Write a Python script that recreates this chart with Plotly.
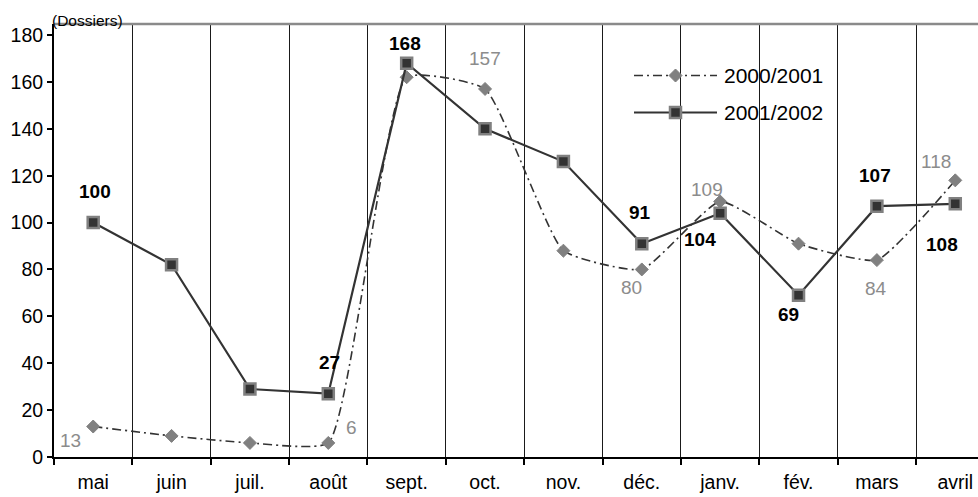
import plotly.graph_objects as go

# Monthly file counts, May to April
months = ["mai", "juin", "juil.", "août", "sept.", "oct.", "nov.", "déc.",
          "janv.", "fév.", "mars", "avril"]
dossiers_2000_2001 = [13, 9, 6, 6, 162, 157, 88, 80, 109, 91, 84, 118]
dossiers_2001_2002 = [100, 82, 29, 27, 168, 140, 126, 91, 104, 69, 107, 108]
y_ticks = [0, 20, 40, 60, 80, 100, 120, 140, 160, 180]

# Months that get a value label, with the label offset from its marker (px)
label_offsets_2000_2001 = {
    "mai": (-23, -14), "août": (23, 15), "oct.": (0, 30), "déc.": (-10, -18),
    "janv.": (-13, 12), "mars": (-1, -28), "avril": (-19, 19),
}
label_offsets_2001_2002 = {
    "mai": (2, 31), "août": (1, 31), "sept.": (-2, 20), "déc.": (-2, 31),
    "janv.": (-20, -26), "fév.": (-10, -19), "mars": (-2, 31), "avril": (-13, -41),
}

FONT = "Liberation Sans, Arial, sans-serif"
LINE_DARK = "#333333"
MARKER_GREY = "#808080"
DASH_DOT = "9px,4px,2px,4px"

fig = go.Figure()

fig.add_trace(go.Scatter(
    x=months, y=dossiers_2000_2001, mode="lines+markers", name="2000/2001",
    line=dict(color=LINE_DARK, width=1.6, dash=DASH_DOT, shape="spline", smoothing=0.45),
    marker=dict(symbol="diamond", size=10, color=MARKER_GREY,
                line=dict(color=MARKER_GREY, width=1)),
    showlegend=False, cliponaxis=False,
))
fig.add_trace(go.Scatter(
    x=months, y=dossiers_2001_2002, mode="lines+markers", name="2001/2002",
    line=dict(color=LINE_DARK, width=2.2),
    marker=dict(symbol="square", size=11, color=LINE_DARK,
                line=dict(color=MARKER_GREY, width=2.5)),
    showlegend=False, cliponaxis=False,
))

annotations = []
for m, (dx, dy) in label_offsets_2000_2001.items():
    v = dossiers_2000_2001[months.index(m)]
    annotations.append(dict(
        x=m, y=v, text=str(v), showarrow=False, xshift=dx, yshift=dy,
        font=dict(family=FONT, size=19, color="#8c8c8c"),
    ))
for m, (dx, dy) in label_offsets_2001_2002.items():
    v = dossiers_2001_2002[months.index(m)]
    annotations.append(dict(
        x=m, y=v, text=str(v), showarrow=False, xshift=dx, yshift=dy,
        font=dict(family=FONT, size=19, color="#000000", weight="bold"),
    ))

# Axis unit caption
annotations.append(dict(
    xref="paper", yref="paper", x=0, y=1, xanchor="left", yanchor="middle",
    xshift=-4, yshift=4, text="(Dossiers)", showarrow=False,
    font=dict(family=FONT, size=15.5, color="#000000"),
))

# Legend drawn in a pixel-like overlay frame (x: 54..978, y: 24..457 from top)
legend_rows = [
    ("2000/2001", 75.5, dict(color=LINE_DARK, width=1.6, dash=DASH_DOT),
     dict(symbol="diamond", size=10, color=MARKER_GREY, line=dict(color=MARKER_GREY, width=1))),
    ("2001/2002", 112.5, dict(color=LINE_DARK, width=2.2),
     dict(symbol="square", size=11, color=LINE_DARK, line=dict(color=MARKER_GREY, width=2.5))),
]
for name, ly, line_style, marker_style in legend_rows:
    fig.add_trace(go.Scatter(
        x=[634, 717], y=[ly, ly], mode="lines", line=line_style,
        xaxis="x2", yaxis="y2", showlegend=False, hoverinfo="skip",
    ))
    fig.add_trace(go.Scatter(
        x=[675.5], y=[ly], mode="markers", marker=marker_style,
        xaxis="x2", yaxis="y2", showlegend=False, hoverinfo="skip",
    ))
    annotations.append(dict(
        xref="x2", yref="y2", x=722, y=ly, xanchor="left", yanchor="middle",
        text=name, showarrow=False,
        font=dict(family=FONT, size=21, color="#000000"),
    ))

fig.update_layout(
    width=978, height=497,
    margin=dict(l=54, r=0, t=24, b=40),
    paper_bgcolor="white", plot_bgcolor="white",
    font=dict(family=FONT, color="#000000"),
    annotations=annotations,
    shapes=[dict(type="line", xref="paper", yref="paper", x0=0, x1=1, y0=1, y1=1,
                 line=dict(color="#8a8a8a", width=2.5), layer="above")],
    xaxis=dict(
        type="category", categoryorder="array", categoryarray=months,
        range=[-0.5, 11.29], tickson="boundaries",
        showgrid=True, gridcolor="#1a1a1a", gridwidth=1,
        showline=True, linecolor="#000000", linewidth=2,
        ticks="outside", ticklen=6, tickcolor="#000000", tickwidth=1.5,
        tickfont=dict(family=FONT, size=19.5, color="#000000"),
        ticklabelstandoff=7, zeroline=False, fixedrange=True,
    ),
    yaxis=dict(
        range=[0, 184.7], tickvals=y_ticks,
        showgrid=False, zeroline=False,
        showline=True, linecolor="#000000", linewidth=2,
        ticks="outside", ticklen=5, tickcolor="#000000", tickwidth=1.5,
        tickfont=dict(family=FONT, size=19.5, color="#000000"),
        fixedrange=True,
    ),
    xaxis2=dict(overlaying="x", anchor="y2", range=[54, 978], visible=False, fixedrange=True),
    yaxis2=dict(overlaying="y", anchor="x2", range=[457, 24], visible=False, fixedrange=True),
)

fig.write_html("out.html")
